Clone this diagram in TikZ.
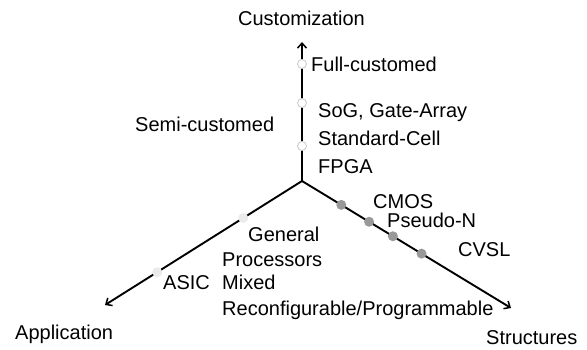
\documentclass[tikz,border=0pt]{standalone}
\usepackage{fontspec}
\setmainfont{Liberation Sans}
\usetikzlibrary{arrows.meta}
\definecolor{circline}{HTML}{C8C8C8}
\definecolor{lightdot}{HTML}{EBEBEB}
\definecolor{darkdot}{HTML}{999999}
\begin{document}
\begin{tikzpicture}[x=1pt,y=-1pt,
  axis/.style={line width=1.9pt,-{Straight Barb[length=5pt,width=9pt,line width=1.5pt]}},
  lbl/.style={inner sep=0pt,anchor=base west,font=\fontsize{20}{24}\selectfont},
  ttl/.style={inner sep=0pt,font=\fontsize{20}{24}\selectfont},
  wdot/.style={circle,draw=circline,fill=white,line width=0.8pt,minimum size=9pt,inner sep=0pt},
  ldot/.style={circle,fill=lightdot,minimum size=10pt,inner sep=0pt},
  gdot/.style={circle,fill=darkdot,minimum size=10pt,inner sep=0pt}]
\useasboundingbox (0,0) rectangle (587,350);
\coordinate (O) at (302,181);
\coordinate (U) at (302,42);
\coordinate (L) at (105,305);
\coordinate (R) at (511,308);
\draw[axis] (O) -- (U)
  node[pos=0.252,wdot] (u1) {}
  node[pos=0.561,wdot] (u2) {}
  node[pos=0.842,wdot] (u3) {};
\draw[axis] (O) -- (L)
  node[pos=0.298,ldot] (l1) {}
  node[pos=0.735,ldot] (l2) {};
\draw[axis] (O) -- (R)
  node[pos=0.188,gdot] (r1) {}
  node[pos=0.321,gdot] (r2) {}
  node[pos=0.435,gdot] (r3) {}
  node[pos=0.572,gdot] (r4) {};
\node[ttl,anchor=base] (tcust) at (301.5,26) {Customization};
\node[lbl] (tfull) at (311,72) {Full-customed};
\node[lbl] (tsog) at (318,118) {SoG, Gate-Array};
\node[lbl] (tstd) at (318,146) {Standard-Cell};
\node[lbl] (tfpga) at (318,174) {FPGA};
\node[lbl] (tsemi) at (135,132) {Semi-customed};
\node[lbl] (tcmos) at (373,209) {CMOS};
\node[lbl] (tpseudo) at (387,228) {Pseudo-N};
\node[lbl] (tcvsl) at (458,256) {CVSL};
\node[lbl] (tgen) at (248,242) {General};
\node[lbl] (tproc) at (222,266) {Processors};
\node[lbl] (tmix) at (222,290) {Mixed};
\node[lbl] (trec) at (222,315) {Reconfigurable/Programmable};
\node[lbl] (tasic) at (163,290) {ASIC};
\node[lbl] (tapp) at (15,339) {Application};
\node[lbl] (tstruct) at (486,344) {Structures};
\end{tikzpicture}
\end{document}
